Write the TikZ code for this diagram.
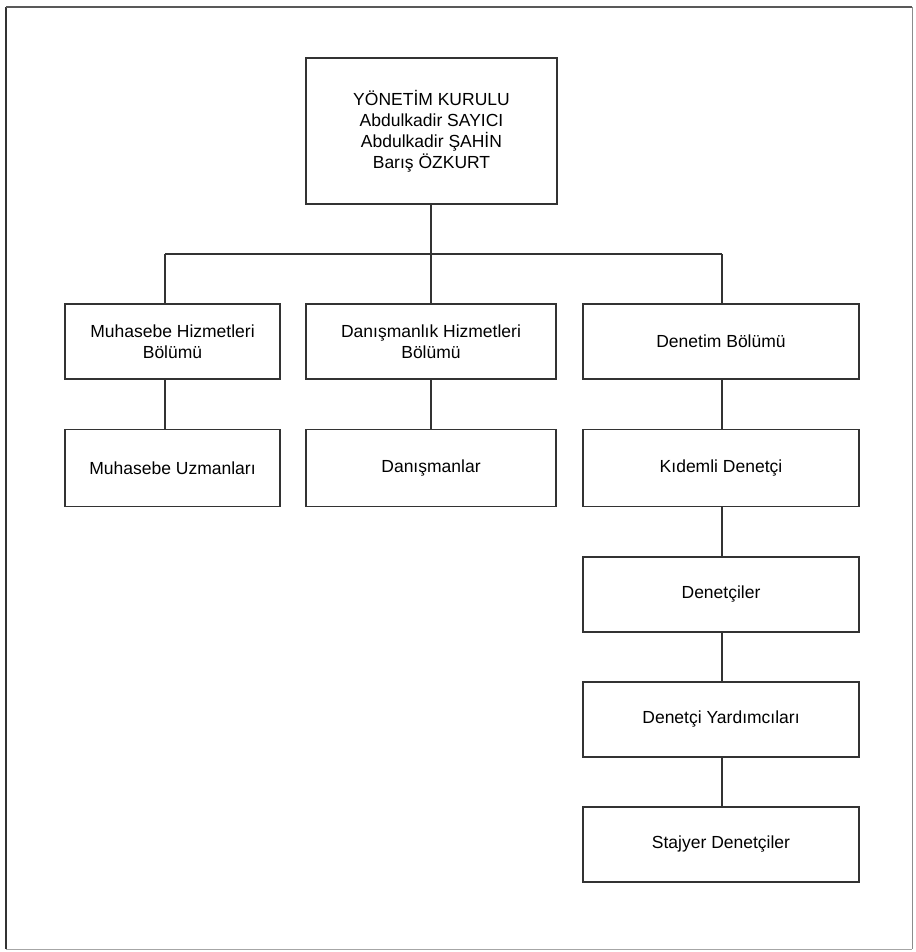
\documentclass[tikz,border=0pt]{standalone}
\usepackage{fontspec}
\setmainfont{Liberation Sans}
\begin{document}
\begin{tikzpicture}[x=1pt,y=-1pt,
  orgbox/.style={draw=black!80, line width=1.3pt, align=center,
    font=\fontsize{17.5}{21}\selectfont, inner sep=0pt},
  link/.style={draw=black!80, line width=1.3pt}]
\useasboundingbox (0,0) rectangle (915,952);
\coordinate (fTL) at (6,7);
\coordinate (fTR) at (912,7);
\coordinate (fBR) at (912,949);
\coordinate (fBL) at (6,949);
\draw[draw=black!80, line width=1.8pt] (fBL) -- (fTL);
\draw[draw=black!65, line width=1.5pt] (fTL) -- (fTR);
\draw[draw=black!45, line width=1pt] (fTR) -- (fBR);
\draw[draw=black!35, line width=1pt] (fBR) -- (fBL);

\node[orgbox, minimum width=251pt, minimum height=146pt] (top) at (431.5,131)
  {YÖNETİM KURULU\\Abdulkadir SAYICI\\Abdulkadir ŞAHİN\\Barış ÖZKURT};

\node[orgbox, minimum width=215pt, minimum height=75pt] (m1) at (172.5,341.5)
  {Muhasebe Hizmetleri\\Bölümü};
\node[orgbox, minimum width=250pt, minimum height=75pt] (d1) at (431,341.5)
  {Danışmanlık Hizmetleri\\Bölümü};
\node[orgbox, minimum width=276pt, minimum height=75pt] (a1) at (721,341.5)
  {Denetim Bölümü};

\node[orgbox, minimum width=215pt, minimum height=77pt] (m2) at (172.5,468)
  {Muhasebe Uzmanları};
\node[orgbox, minimum width=250pt, minimum height=77pt] (d2) at (431,468)
  {Danışmanlar};
\node[orgbox, minimum width=276pt, minimum height=77pt] (a2) at (721,468)
  {Kıdemli Denetçi};

\node[orgbox, minimum width=276pt, minimum height=75pt] (a3) at (721,594.5)
  {Denetçiler};
\node[orgbox, minimum width=276pt, minimum height=75pt] (a4) at (721,719.5)
  {Denetçi Yardımcıları};
\node[orgbox, minimum width=276pt, minimum height=75pt] (a5) at (721,844.5)
  {Stajyer Denetçiler};

\coordinate (busL) at (165,254);
\coordinate (busR) at (722,254);
\coordinate (busM) at (431,254);

\draw[link] (busM |- top.south) -- (busM);
\draw[link] (busL) -- (busR);
\draw[link] (busL) -- (busL |- m1.north);
\draw[link] (busM) -- (busM |- d1.north);
\draw[link] (busR) -- (busR |- a1.north);
\draw[link] (busL |- m1.south) -- (busL |- m2.north);
\draw[link] (d1.south) -- (d2.north);
\draw[link] (busR |- a1.south) -- (busR |- a2.north);
\draw[link] (busR |- a2.south) -- (busR |- a3.north);
\draw[link] (busR |- a3.south) -- (busR |- a4.north);
\draw[link] (busR |- a4.south) -- (busR |- a5.north);
\end{tikzpicture}
\end{document}
